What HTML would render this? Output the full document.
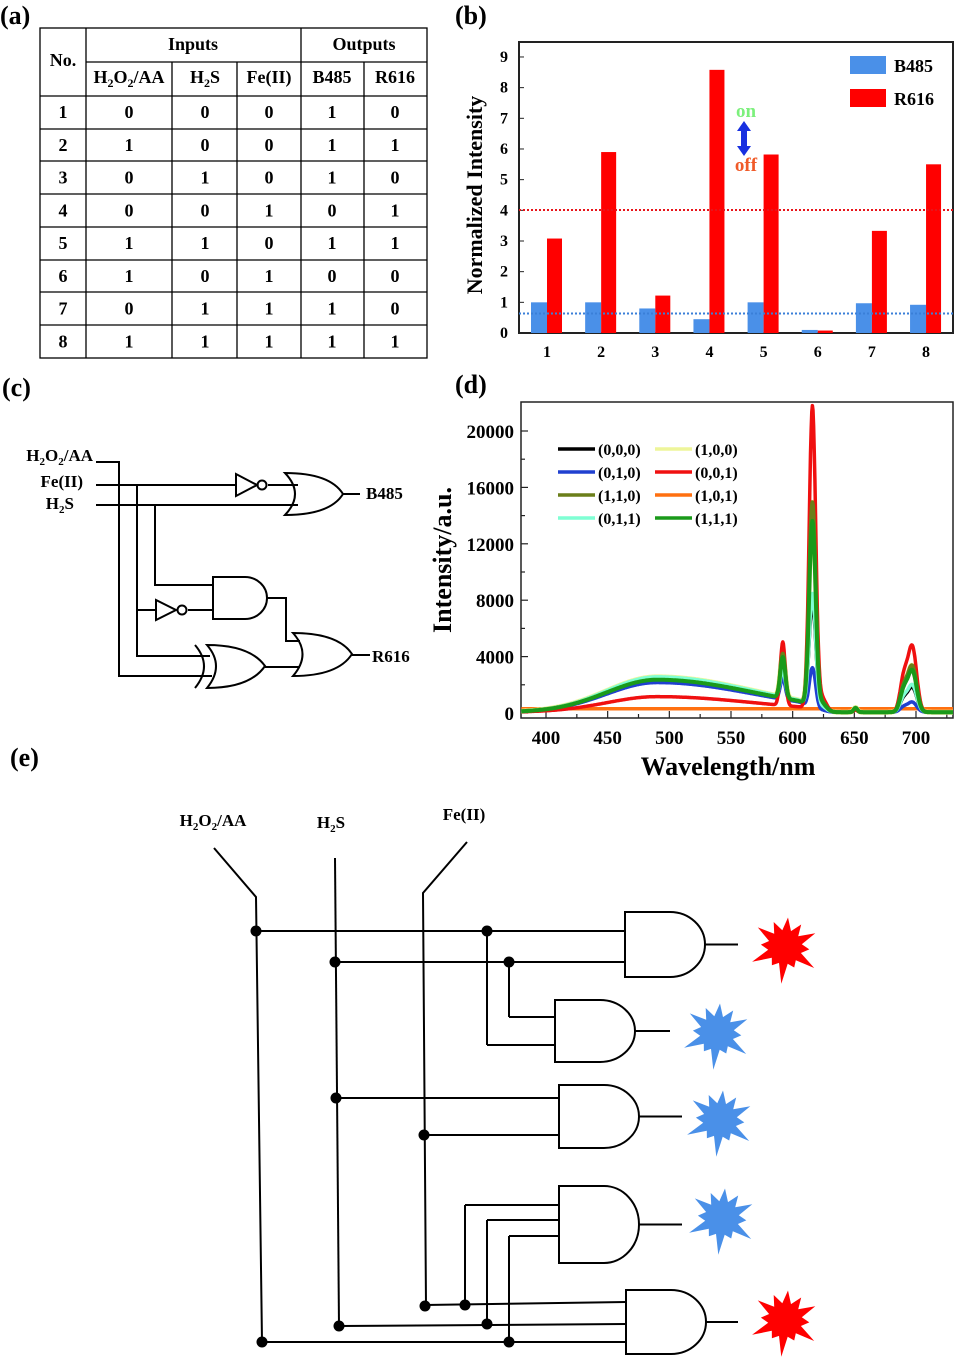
<!DOCTYPE html>
<html><head><meta charset="utf-8"><style>
html,body{margin:0;padding:0;background:#fff}
svg{display:block}
text{font-family:"Liberation Serif",serif;font-weight:bold;fill:#000}
</style></head><body>
<svg id="s" width="957" height="1358" viewBox="0 0 957 1358" xmlns="http://www.w3.org/2000/svg">
<text x="0" y="24" font-size="26">(a)</text>
<text x="455" y="24" font-size="26">(b)</text>
<text x="2" y="396" font-size="26">(c)</text>
<text x="455" y="393" font-size="26">(d)</text>
<text x="10" y="766" font-size="26">(e)</text>

<g stroke="#000" stroke-width="1.3" fill="none">
<rect x="40" y="28" width="387" height="330"/>
<line x1="86" y1="62" x2="427" y2="62"/>
<line x1="40" y1="96" x2="427" y2="96"/>
<line x1="86" y1="28" x2="86" y2="358"/>
<line x1="301" y1="28" x2="301" y2="358"/>
<line x1="172" y1="62" x2="172" y2="358"/>
<line x1="237" y1="62" x2="237" y2="358"/>
<line x1="364" y1="62" x2="364" y2="358"/>
<line x1="40" y1="129" x2="427" y2="129"/>
<line x1="40" y1="161" x2="427" y2="161"/>
<line x1="40" y1="194" x2="427" y2="194"/>
<line x1="40" y1="227" x2="427" y2="227"/>
<line x1="40" y1="260" x2="427" y2="260"/>
<line x1="40" y1="292" x2="427" y2="292"/>
<line x1="40" y1="325" x2="427" y2="325"/>
</g>
<g font-size="18" text-anchor="middle">
<text x="63" y="66">No.</text>
<text x="193" y="50">Inputs</text>
<text x="364" y="50">Outputs</text>
<text x="129" y="83">H<tspan font-size="12" dy="4">2</tspan><tspan dy="-4">O</tspan><tspan font-size="12" dy="4">2</tspan><tspan dy="-4">/AA</tspan></text>
<text x="205" y="83">H<tspan font-size="12" dy="4">2</tspan><tspan dy="-4">S</tspan></text>
<text x="269" y="83">Fe(II)</text>
<text x="332" y="83">B485</text>
<text x="395" y="83">R616</text>
</g>
<g id="rows" font-size="18" text-anchor="middle"></g>

<rect x="519" y="42" width="434" height="291" fill="none" stroke="#222" stroke-width="2"/>
<g id="bars"></g>
<line x1="519" y1="210" x2="953" y2="210" stroke="#e8141a" stroke-width="2" stroke-dasharray="2,2"/>
<line x1="519" y1="313.5" x2="953" y2="313.5" stroke="#3a7fd8" stroke-width="2" stroke-dasharray="2,2"/>
<g font-size="16" text-anchor="end" id="byt"></g>
<g font-size="16" text-anchor="middle" id="bxt"></g>
<text transform="translate(482,195) rotate(-90)" font-size="22" text-anchor="middle">Normalized Intensity</text>
<rect x="850" y="56" width="36" height="18" fill="#4a90e8"/>
<rect x="850" y="89" width="36" height="18" fill="#f00"/>
<text x="894" y="72" font-size="18">B485</text>
<text x="894" y="105" font-size="18">R616</text>
<text x="746" y="117" font-size="19" text-anchor="middle" style="fill:#7cf07c">on</text>
<text x="746" y="171" font-size="19" text-anchor="middle" style="fill:#f05a28">off</text>
<polygon points="744,121 737,131 741,131 741,146 737,146 744,156 751,146 747,146 747,131 751,131" fill="#1830e0"/>

<g font-size="17" text-anchor="end">
<text x="93" y="461">H<tspan font-size="11" dy="4">2</tspan><tspan dy="-4">O</tspan><tspan font-size="11" dy="4">2</tspan><tspan dy="-4">/AA</tspan></text>
<text x="83" y="487">Fe(II)</text>
<text x="74" y="509">H<tspan font-size="11" dy="4">2</tspan><tspan dy="-4">S</tspan></text>
</g>
<text x="366" y="499" font-size="17">B485</text>
<text x="372" y="662" font-size="17">R616</text>
<g stroke="#000" stroke-width="2" fill="none">
<polyline points="96,462 119,462 119,676 212,676"/>
<line x1="96" y1="485" x2="236" y2="485"/>
<line x1="268" y1="485" x2="298" y2="485"/>
<line x1="96" y1="505" x2="298" y2="505"/>
<polyline points="137,485 137,656 210,656"/>
<polyline points="137,610 156,610"/>
<line x1="188" y1="610" x2="213" y2="610"/>
<polyline points="155,505 155,585 213,585"/>
<polygon points="236,474 236,496 257,485"/>
<circle cx="262" cy="485" r="4.5"/>
<polygon points="156,600 156,620 176,610"/>
<circle cx="182" cy="610" r="4.5"/>
<path d="M285,473 Q305,494 285,515 Q330,515 343,494 Q330,473 285,473 Z"/>
<line x1="343" y1="494" x2="360" y2="494"/>
<path d="M213,577 L245,577 A22,21 0 0 1 245,619 L213,619 Z"/>
<polyline points="267,598 286,598 286,641 300,641"/>
<path d="M207,645 Q225,666 207,688 Q250,688 265,666 Q250,645 207,645 Z"/>
<path d="M195,645 Q213,666 195,688"/>
<line x1="265" y1="667" x2="300" y2="667"/>
<path d="M293,633 Q312,654 293,676 Q338,676 352,654 Q338,633 293,633 Z"/>
<line x1="352" y1="655" x2="370" y2="655"/>
</g>

<rect x="521" y="402" width="432" height="316" fill="none" stroke="#222" stroke-width="1.5"/>
<g id="dticks" stroke="#222" stroke-width="1.2"></g>
<g id="spec" fill="none" stroke-linejoin="round"></g>
<g font-size="19" text-anchor="end" id="dyt"></g>
<g font-size="19" text-anchor="middle" id="dxt"></g>
<text x="728" y="775" font-size="26" text-anchor="middle">Wavelength/nm</text>
<text transform="translate(451,560) rotate(-90)" font-size="26" text-anchor="middle">Intensity/a.u.</text>
<g id="dleg" font-size="16"></g>

<g font-size="17" text-anchor="middle">
<text x="213" y="826">H<tspan font-size="11" dy="4">2</tspan><tspan dy="-4">O</tspan><tspan font-size="11" dy="4">2</tspan><tspan dy="-4">/AA</tspan></text>
<text x="331" y="828">H<tspan font-size="11" dy="4">2</tspan><tspan dy="-4">S</tspan></text>
<text x="464" y="820">Fe(II)</text>
</g>
<g stroke="#000" stroke-width="2" fill="none">
<polyline points="214,848 256,897 262,1342"/>
<polyline points="335,858 339,1326"/>
<polyline points="467,842 423,893 426,1306"/>
</g>
<g id="egates" stroke="#000" stroke-width="2" fill="none"></g>
<g id="edots" fill="#000"></g>
<g id="stars"></g>
</svg>
<script>
var NS="http://www.w3.org/2000/svg";
function el(p,t,a,txt){var e=document.createElementNS(NS,t);for(var k in a)e.setAttribute(k,a[k]);if(txt!=null)e.textContent=txt;document.getElementById(p).appendChild(e);return e;}
var rows=[[0,0,0,1,0],[1,0,0,1,1],[0,1,0,1,0],[0,0,1,0,1],[1,1,0,1,1],[1,0,1,0,0],[0,1,1,1,0],[1,1,1,1,1]];
var cx=[63,129,205,269,332,395];
for(var i=0;i<8;i++){var y=96+32.75*i+22;el("rows","text",{x:cx[0],y:y},String(i+1));for(var j=0;j<5;j++)el("rows","text",{x:cx[j+1],y:y},String(rows[i][j]));}
var B=[1,1,0.8,0.45,1,0.1,0.97,0.92],R=[3.08,5.9,1.22,8.58,5.82,0.08,3.33,5.5];
function by(v){return 333-v*30.67;}
for(var i=0;i<8;i++){var c=547+54.15*i;
el("bars","rect",{x:c-16,y:by(B[i]),width:16,height:333-by(B[i]),fill:"#4a90e8"});
el("bars","rect",{x:c,y:by(R[i]),width:15,height:333-by(R[i]),fill:"#f00"});
el("bxt","text",{x:c,y:357},String(i+1));}
for(var v=0;v<=9;v++){el("byt","text",{x:508,y:by(v)+5},String(v));el("bars","line",{x1:519,x2:524,y1:by(v),y2:by(v),stroke:"#222","stroke-width":1});}
function X(w){return 546+(w-400)*1.2333;}
function Y(v){return 713-v*0.0141;}
for(var v=0;v<=20000;v+=2000){var y=Y(v);el("dticks","line",{x1:521,x2:v%4000==0?528:525,y1:y,y2:y});if(v%4000==0)el("dyt","text",{x:514,y:y+7},String(v));}
for(var w=400;w<=725;w+=25){var x=X(w);el("dticks","line",{x1:x,x2:x,y1:718,y2:w%50==0?711:714});if(w%50==0&&w<=700)el("dxt","text",{x:x,y:744},String(w));}
function g(w,c,s){return Math.exp(-Math.pow((w-c)/s,2)/2);}
var S=[
["#000",2200,1500,7500,1700,3],
["#eef59a",2500,3000,14700,3200,5],
["#2040d0",2100,1500,3100,700,3.5],
["#f01010",1100,4500,21500,4600,3.5],
["#6b7f1a",2400,3100,14700,3200,4],
["#7fffd4",2500,1900,8300,1900,3.5],
["#1a9a1a",2300,2900,13400,2900,4]];
var d="";for(var w=380;w<=730;w+=2){d+=(w==380?"M":"L")+X(w).toFixed(1)+","+Y(300).toFixed(1);}
el("spec","path",{d:d,stroke:"#ff7010","stroke-width":3.5});
S.forEach(function(s){var d="";for(var w=380;w<=730;w+=0.5){
var br=s[1]*Math.exp(-Math.pow((w-490)/(w<490?58:112),2));br=br/(1+Math.exp((w-611)/1.5));
var v=br+s[2]*g(w,592,2)+s[3]*g(w,616,2.6)+s[3]*0.05*g(w,623,4)+300*g(w,651,1.5)*(s[1]/2300)+s[4]*g(w,697,3.5)+s[4]*0.5*g(w,690,3)+60;
d+=(w==380?"M":"L")+X(w).toFixed(1)+","+Y(v).toFixed(1);}
el("spec","path",{d:d,stroke:s[0],"stroke-width":s[5]});});
var L=[["#000","(0,0,0)",0,0],["#eef59a","(1,0,0)",1,0],["#2040d0","(0,1,0)",0,1],["#f01010","(0,0,1)",1,1],["#6b7f1a","(1,1,0)",0,2],["#ff7010","(1,0,1)",1,2],["#7fffd4","(0,1,1)",0,3],["#1a9a1a","(1,1,1)",1,3]];
L.forEach(function(l){var x0=l[2]?655:558,y=449+23*l[3];el("dleg","line",{x1:x0,x2:x0+37,y1:y,y2:y,stroke:l[0],"stroke-width":3.5});el("dleg","text",{x:x0+40,y:y+6},l[1]);});
function AND(x,y1,y2,out){var h=(y2-y1)/2,w=x+45;el("egates","path",{d:"M"+x+","+y1+" L"+w+","+y1+" A"+(35)+","+h+" 0 0 1 "+w+","+y2+" L"+x+","+y2+" Z"});el("egates","line",{x1:w+35,x2:out,y1:y1+h,y2:y1+h});}
AND(625,912,977,738);AND(555,1000,1062,670);AND(559,1085,1148,682);AND(559,1186,1263,682);AND(626,1290,1354,738);
var W=[[256,931,625,931],[335,962,625,962],[487,931,487,1045],[487,1045,555,1045],[509,962,509,1017],[509,1017,555,1017],
[336,1098,559,1098],[424,1135,559,1135],
[465,1305,465,1205],[465,1205,559,1205],[487,1324,487,1220],[487,1220,559,1220],[509,1342,509,1236],[509,1236,559,1236],
[425,1305,626,1302],[339,1326,626,1324],[262,1342,626,1342]];
W.forEach(function(a){el("egates","line",{x1:a[0],y1:a[1],x2:a[2],y2:a[3]});});
[[256,931],[487,931],[335,962],[509,962],[336,1098],[424,1135],[425,1306],[465,1305],[339,1326],[487,1324],[262,1342],[509,1342]].forEach(function(p){el("edots","circle",{cx:p[0],cy:p[1],r:5.5});});
function star(cx,cy,R,r,col){var p=[];for(var i=0;i<24;i++){var a=Math.PI*i/12-Math.PI/2+0.1,rr=i%2?r:R*(0.8+0.2*Math.sin(i*1.7));p.push((cx+rr*Math.cos(a)).toFixed(1)+","+(cy+rr*Math.sin(a)).toFixed(1));}el("stars","polygon",{points:p.join(" "),fill:col});}
star(785,947,37,17,"#f00");star(717,1033,37,17,"#4a90e8");star(720,1120,37,17,"#4a90e8");star(722,1218,37,17,"#4a90e8");star(785,1320,37,17,"#f00");
</script>
</body></html>
